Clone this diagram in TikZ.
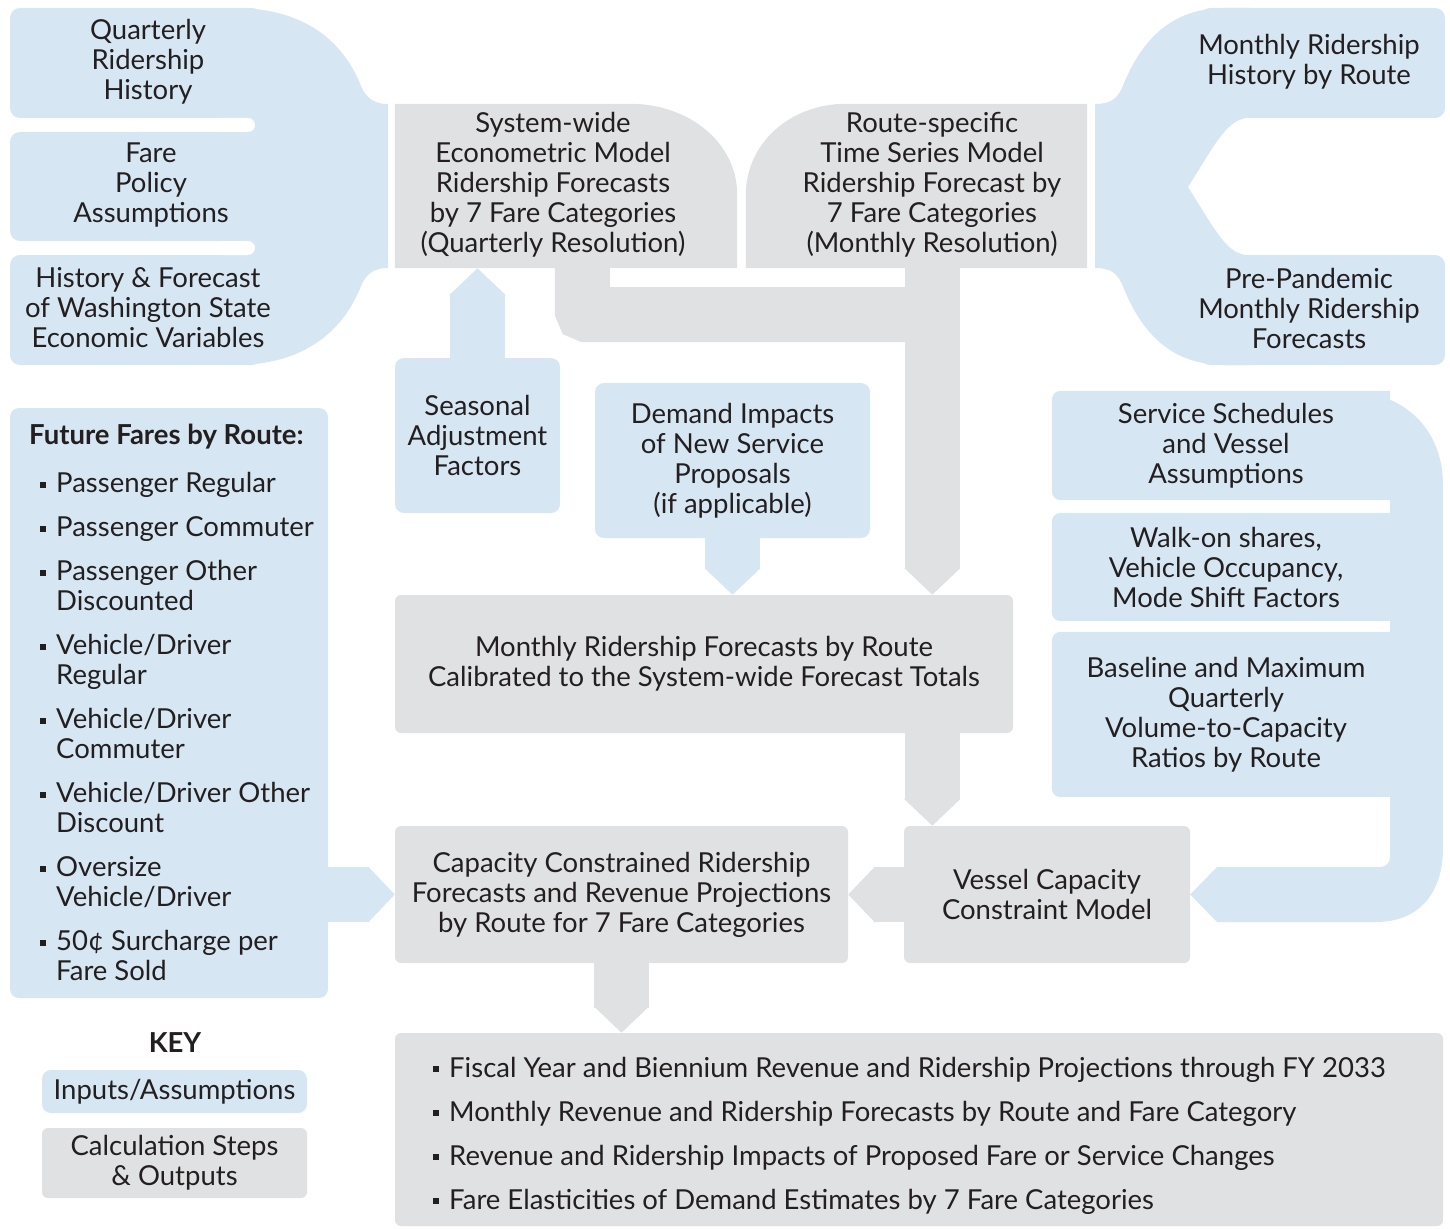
\documentclass[tikz,border=0pt]{standalone}
\usepackage{fontspec}
\setmainfont{Lato}
\usetikzlibrary{arrows.meta,calc}
\definecolor{blu}{RGB}{214,230,242}
\definecolor{gry}{RGB}{224,225,226}
\definecolor{txt}{RGB}{35,31,32}
\newcommand\sqb{\rule[5pt]{6pt}{6pt}}
\begin{document}
\begin{tikzpicture}[x=1pt,y=-1pt,
  font=\fontsize{27.5}{30}\selectfont, text=txt,
  inbox/.style={fill=blu, rounded corners=9pt, align=center, inner sep=0pt},
  calcbox/.style={fill=gry, rounded corners=6pt, align=center, inner sep=0pt},
  lbl/.style={align=center, inner sep=0pt},
  pipeG/.style={draw=gry, line width=55pt},
  pipeB/.style={draw=blu, line width=55pt},
  tip/.style={-{Triangle[width=55pt,length=27pt]}}]
\useasboundingbox (0,0) rectangle (1450,1228);

% ---------- top-left inputs funnel ----------
\fill[blu, rounded corners=10pt] (10,8) rectangle (262,118) (10,132) rectangle (262,241) (10,255) rectangle (262,365);
\fill[blu] (235,8) .. controls (308,8) and (345,45) .. (361,86) .. controls (367,100) and (376,104) .. (388,104)
  -- (388,268) .. controls (376,268) and (367,272) .. (361,286) .. controls (345,327) and (308,365) .. (235,365) -- cycle;
\fill[white, rounded corners=7pt] (215,118) rectangle (255,132) (215,241) rectangle (255,255);
\node[lbl] (qrh) at (148,62) {Quarterly\\Ridership\\History};
\node[lbl] (fpa) at (151,185) {Fare\\Policy\\Assumptions};
\node[lbl] (hfw) at (148,308) {History \& Forecast\\of Washington State\\Economic Variables};

% ---------- top-right inputs funnel ----------
\fill[blu, rounded corners=10pt] (1200,8) rectangle (1445,118) (1200,255) rectangle (1445,365);
\fill[blu] (1225,8) .. controls (1165,8) and (1138,48) .. (1122,88) .. controls (1117,99) and (1110,104) .. (1095,104)
  -- (1095,268) .. controls (1110,268) and (1117,273) .. (1122,284) .. controls (1138,325) and (1165,365) .. (1225,365)
  -- (1250,365) -- (1250,255) -- (1246,255) .. controls (1226,253) and (1214,228) .. (1188,187)
  .. controls (1214,146) and (1226,121) .. (1246,118) -- (1250,118) -- (1250,8) -- cycle;
\node[lbl] (mrh) at (1309,62) {Monthly Ridership\\History by Route};
\node[lbl] (ppm) at (1309,308) {Pre-Pandemic\\Monthly Ridership\\Forecasts};

% ---------- model boxes ----------
\node[minimum width=342pt, minimum height=164pt, inner sep=0pt] (sys) at (566,186) {};
\fill[gry] (sys.south west) -- (sys.north west) -- ($(sys.north east)+(-107,0)$)
  .. controls ($(sys.north east)+(-48,0)$) and ($(sys.north east)+(0,39)$) .. ($(sys.north east)+(0,91)$)
  -- (sys.south east) -- cycle;
\node[lbl] (sysT) at (553,185) {System-wide\\Econometric Model\\Ridership Forecasts\\by 7 Fare Categories\\(Quarterly Resolution)};

\node[minimum width=341pt, minimum height=164pt, inner sep=0pt] (rts) at (916.5,186) {};
\fill[gry] (rts.south east) -- (rts.north east) -- ($(rts.north west)+(100,0)$)
  .. controls ($(rts.north west)+(45,0)$) and ($(rts.north west)+(0,39)$) .. ($(rts.north west)+(0,91)$)
  -- (rts.south west) -- cycle;
\node[lbl] (rtsT) at (932,185) {Route-specific\\Time Series Model\\Ridership Forecast by\\7 Fare Categories\\(Monthly Resolution)};

\node[inbox, minimum width=165pt, minimum height=155pt] (sea) at (477.5,435.5) {Seasonal\\Adjustment\\Factors};
\node[inbox, minimum width=275pt, minimum height=155pt] (dem) at (732.5,460.5) {Demand Impacts\\of New Service\\Proposals\\(if applicable)};
\node[calcbox, minimum width=618pt, minimum height=138pt] (mrf) at (704,664) {Monthly Ridership Forecasts by Route\\Calibrated to the System-wide Forecast Totals};
\node[calcbox, minimum width=453pt, minimum height=137pt] (cap) at (621.5,894.5) {Capacity Constrained Ridership\\Forecasts and Revenue Projections\\by Route for 7 Fare Categories};
\node[calcbox, minimum width=286pt, minimum height=137pt] (ves) at (1047,894.5) {Vessel Capacity\\Constraint Model};

% ---------- right inputs ----------
\node[lbl, minimum width=348pt, minimum height=109pt] (ssv) at (1226,445.5) {};
\node[lbl, minimum width=348pt, minimum height=108pt] (wos) at (1226,567) {};
\node[lbl, minimum width=348pt, minimum height=165pt] (bmq) at (1226,714.5) {};
\foreach \b in {ssv,wos,bmq}{
  \fill[blu, rounded corners=9pt] ($(\b.south east)+(-10,0)$) -- (\b.south west) -- (\b.north west) -- ($(\b.north east)+(-10,0)$);
}
\fill[blu] (1345,391) .. controls (1405,391) and (1443,430) .. (1443,485) -- (1443,848)
  .. controls (1443,892) and (1420,922) .. (1376,922) -- (1217,922) -- (ves.east) -- (1217,867)
  -- (1380,867) .. controls (1386,867) and (1390,863) .. (1390,857) -- (1390,425) -- (1340,425) -- (1340,391) -- cycle;
\node[lbl] (ssvT) at (ssv) {Service Schedules\\and Vessel\\Assumptions};
\node[lbl] (wosT) at (wos) {Walk-on shares,\\Vehicle Occupancy,\\Mode Shift Factors};
\node[lbl] (bmqT) at (bmq) {Baseline and Maximum\\Quarterly\\Volume-to-Capacity\\Ratios by Route};

% ---------- future fares ----------
\node[inbox, minimum width=318pt, minimum height=590pt] (ff) at (169,703) {};
\node[anchor=west, inner sep=0pt, font=\fontsize{27.5}{30}\selectfont\bfseries] (ffT) at (29,437) {Future Fares by Route:};
\node[anchor=north west, inner sep=0pt, align=left] (ffL) at (40,471.5) {%
\begin{tabular}{@{}l@{\hspace{10pt}}l@{}}
\sqb & Passenger Regular\\[14pt]
\sqb & Passenger Commuter\\[14pt]
\sqb & Passenger Other\\ & Discounted\\[14pt]
\sqb & Vehicle/Driver\\ & Regular\\[14pt]
\sqb & Vehicle/Driver\\ & Commuter\\[14pt]
\sqb & Vehicle/Driver Other\\ & Discount\\[14pt]
\sqb & Oversize\\ & Vehicle/Driver\\[14pt]
\sqb & 50¢ Surcharge per\\ & Fare Sold
\end{tabular}};

% ---------- outputs ----------
\node[calcbox, minimum width=1048pt, minimum height=193pt] (out) at (919,1129.5) {};
\node[anchor=north west, inner sep=0pt, align=left] (outL) at (433,1056) {%
\begin{tabular}{@{}l@{\hspace{10pt}}l@{}}
\sqb & Fiscal Year and Biennium Revenue and Ridership Projections through FY 2033\\[14pt]
\sqb & Monthly Revenue and Ridership Forecasts by Route and Fare Category\\[14pt]
\sqb & Revenue and Ridership Impacts of Proposed Fare or Service Changes\\[14pt]
\sqb & Fare Elasticities of Demand Estimates by 7 Fare Categories
\end{tabular}};

% ---------- key ----------
\node[lbl, font=\fontsize{27.5}{30}\selectfont\bfseries] (key) at (175,1043) {KEY};
\node[inbox, minimum width=265pt, minimum height=43pt] (keyI) at (174.5,1091.5) {Inputs/Assumptions};
\node[calcbox, minimum width=265pt, minimum height=70pt] (keyC) at (174.5,1163) {Calculation Steps\\\& Outputs};

% ---------- connectors ----------
\coordinate (sysOut) at ($(sys.south west)+(187.5,0)$);
\coordinate (rtsOut) at ($(rts.south west)+(186.5,0)$);
\coordinate (joinR) at ($(rtsOut)+(0,46.5)$);
\draw[pipeG, rounded corners=5pt] (sysOut) |- (joinR);
\draw[pipeG, tip] (rtsOut) -- (rtsOut |- mrf.north);
\draw[pipeB, tip] (sea.north) -- (sea.north |- sys.south);
\draw[pipeB, tip] (dem.south) -- (dem.south |- mrf.north);
\draw[pipeG, tip] (rtsOut |- mrf.south) -- (rtsOut |- ves.north);
\draw[pipeG, tip] (ves.west) -- (cap.east);
\draw[pipeB, tip] (ff.east |- cap.west) -- (cap.west);
\draw[pipeG, tip] (cap.south) -- (cap.south |- out.north);
\end{tikzpicture}
\end{document}
